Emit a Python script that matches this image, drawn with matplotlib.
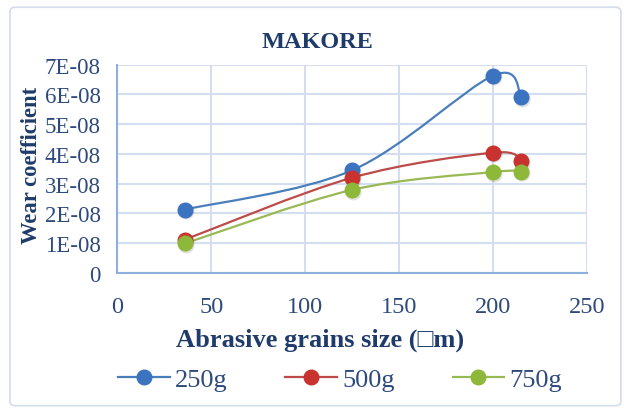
import numpy as np
import matplotlib

matplotlib.use("Agg")
import matplotlib.pyplot as plt
from matplotlib.path import Path
from matplotlib.patches import PathPatch, FancyBboxPatch
from matplotlib.ticker import FuncFormatter
from matplotlib import transforms

# Data
grain_size = [36, 125, 200, 215]
wear_250g = [2.13e-8, 3.45e-8, 6.63e-8, 5.91e-8]
wear_500g = [1.12e-8, 3.20e-8, 4.04e-8, 3.76e-8]
wear_750g = [0.99e-8, 2.79e-8, 3.39e-8, 3.40e-8]
series_labels = ["250g", "500g", "750g"]
x_ticks = [0, 50, 100, 150, 200, 250]

line_colors = ["#4A7EBB", "#BE4B48", "#98B954"]
marker_colors = ["#3B73C0", "#C8322F", "#8DB83A"]
text_color = "#1F3B6B"
tick_color = "#2E4A7D"

plt.rcParams["font.family"] = ["Liberation Serif", "DejaVu Serif"]


def smooth_path(xs, ys):
    """Excel-like smoothed line: cubic Bezier segments through the points."""
    pts = np.column_stack([xs, ys])
    verts = [pts[0]]
    codes = [Path.MOVETO]
    n = len(pts)
    for i in range(n - 1):
        p0 = pts[i - 1] if i > 0 else pts[i]
        p1 = pts[i]
        p2 = pts[i + 1]
        p3 = pts[i + 2] if i + 2 < n else pts[i + 1]
        c1 = p1 + (p2 - p0) / 6.0
        c2 = p2 - (p3 - p1) / 6.0
        verts += [c1, c2, p2]
        codes += [Path.CURVE4] * 3
    return Path(verts, codes)


fig = plt.figure(figsize=(6.24, 4.10), dpi=100)

# rounded chart border
border = FancyBboxPatch((0.016, 0.008), 0.979, 0.972, boxstyle="round,pad=0,rounding_size=0.01",
                        transform=fig.transFigure, facecolor="none", edgecolor="#D5DFEC",
                        linewidth=1.3, zorder=-1)
fig.patches.append(border)

ax = fig.add_axes([0.188, 0.332, 0.753, 0.508])

shadow = transforms.offset_copy(ax.transData, fig=fig, x=0.6, y=-1.2, units="points")
all_series = [wear_250g, wear_500g, wear_750g]
for vals, lc, mc, lab in zip(all_series, line_colors, marker_colors, series_labels):
    ax.add_patch(PathPatch(smooth_path(grain_size, vals), facecolor="none", edgecolor=lc,
                           linewidth=1.6, zorder=3))
    ax.plot(grain_size, vals, linestyle="none", marker="o", markersize=11.5, color="#000000",
            alpha=0.12, markeredgewidth=0, transform=shadow, zorder=3.5)
    ax.plot(grain_size, vals, linestyle="none", marker="o", markersize=10.5,
            markerfacecolor=mc, markeredgecolor=mc, zorder=4)
    # legend proxy
    ax.plot([], [], color=lc, linewidth=1.6, marker="o", markersize=10.5,
            markerfacecolor=mc, markeredgecolor=mc, label=lab)

ax.set_xlim(0, 250)
ax.set_ylim(0, 7e-8)
ax.set_xticks(x_ticks)
ax.set_yticks(np.arange(0, 8) * 1e-8)
ax.yaxis.set_major_formatter(FuncFormatter(lambda v, p: "0" if v == 0 else "%dE-08" % round(v * 1e8)))
ax.grid(True, color="#D3DFF0", linewidth=1.5)
ax.set_axisbelow(True)
for side in ["top", "right"]:
    ax.spines[side].set_visible(False)
for side in ["left", "bottom"]:
    ax.spines[side].set_color("#8FB0DC")
    ax.spines[side].set_linewidth(1.5)
ax.tick_params(length=0, labelsize=16.5, labelcolor=tick_color, pad=12)
ax.tick_params(axis="x", labelsize=17.5, pad=17)

# titles placed relative to the whole chart, like Excel does
fig.text(0.508, 0.897, "MAKORE", fontsize=17.5, fontweight="bold", color=text_color,
         ha="center", va="center")
fig.text(0.050, 0.597, "Wear coefficient", fontsize=16.3, fontweight="bold", color=text_color,
         ha="center", va="center", rotation=90)
fig.text(0.513, 0.171, "Abrasive grains size (\u25a1m)", fontsize=19, fontweight="bold",
         color=text_color, ha="center", va="center")

leg = fig.legend(loc="center", bbox_to_anchor=(0.545, 0.073), ncol=3, frameon=False, fontsize=19,
                 handlelength=1.95, columnspacing=2.2, handletextpad=0.2)
for t in leg.get_texts():
    t.set_color(tick_color)

fig.savefig("out.png", dpi=100)
